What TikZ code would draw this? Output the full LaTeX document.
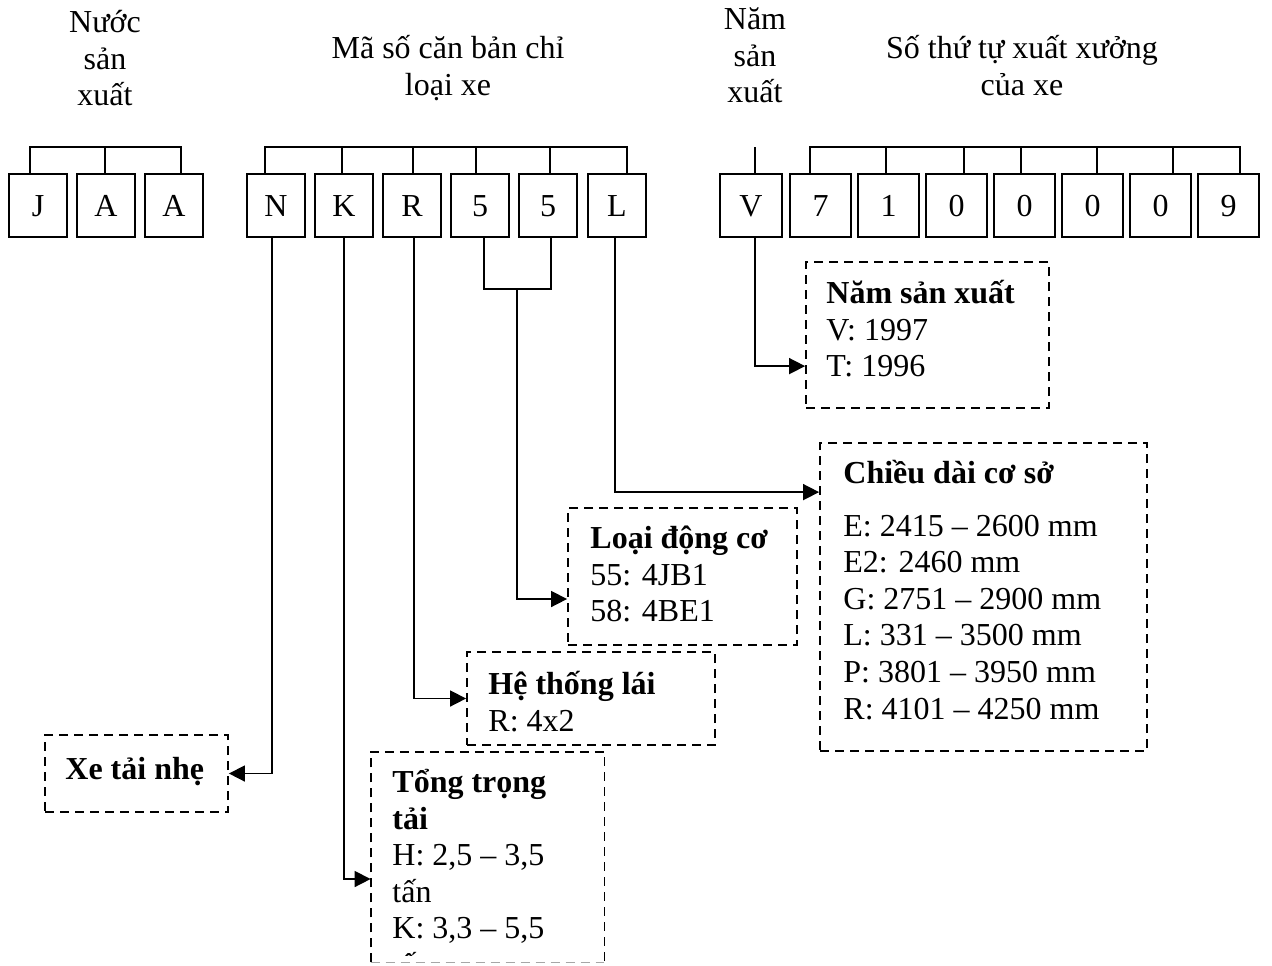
\documentclass[tikz,border=0pt]{standalone}
\usepackage{fontspec}
\setmainfont{Liberation Serif}
\usetikzlibrary{arrows.meta,calc}
\begin{document}
\begin{tikzpicture}[x=0.5pt,y=-0.5pt,
 txt/.style={font=\fontsize{16}{18.3}\selectfont, inner sep=0pt},
 cell/.style={draw, line width=1pt, minimum height=31.5pt, inner sep=0pt, text height=10.6pt, text depth=0pt, font=\fontsize{16}{18.3}\selectfont},
 dline/.style={dash pattern=on 4.5pt off 3pt, line width=0.9pt},
 dbox/.style={draw, dline, inner sep=0pt},
 conn/.style={line width=0.8pt},
 arr/.style={conn, -{Triangle[length=8pt,width=8pt]}}]
\useasboundingbox (0,0) rectangle (1272,965);
\clip (0,0) rectangle (1272,965);

% header texts
\node[txt, anchor=north, align=center] (h1) at (105,0) {\rule{0pt}{16pt}Nước\\sản\\xuất};
\node[txt, anchor=north, align=center] (h2) at (448,26) {\rule{0pt}{16pt}Mã số căn bản chỉ\\loại xe};
\node[txt, anchor=north, align=center] (h3) at (755,-3) {\rule{0pt}{16pt}Năm\\sản\\xuất};
\node[txt, anchor=north, align=center] (h4) at (1022,26) {\rule{0pt}{16pt}Số thứ tự xuất xưởng\\của xe};

% code cells
\node[cell, minimum width=29pt] (j)  at (38,205.5)  {J};
\node[cell, minimum width=29pt] (a1) at (106,205.5) {A};
\node[cell, minimum width=29pt] (a2) at (174,205.5) {A};
\node[cell, minimum width=29pt] (n)  at (276,205.5) {N};
\node[cell, minimum width=29pt] (k)  at (344,205.5) {K};
\node[cell, minimum width=29pt] (r)  at (412,205.5) {R};
\node[cell, minimum width=29pt] (f1) at (480,205.5) {5};
\node[cell, minimum width=29pt] (f2) at (548,205.5) {5};
\node[cell, minimum width=29pt] (l)  at (617,205.5) {L};
\node[cell, minimum width=31pt] (v)  at (751,205.5) {V};
\node[cell, minimum width=30.5pt] (d1) at (820.5,205.5) {7};
\node[cell, minimum width=30.5pt] (d2) at (888.5,205.5) {1};
\node[cell, minimum width=30.5pt] (d3) at (956.5,205.5) {0};
\node[cell, minimum width=30.5pt] (d4) at (1024.5,205.5) {0};
\node[cell, minimum width=30.5pt] (d5) at (1092.5,205.5) {0};
\node[cell, minimum width=30.5pt] (d6) at (1160.5,205.5) {0};
\node[cell, minimum width=30.5pt] (d7) at (1228.5,205.5) {9};

% brackets
\coordinate (brk) at (0,147);
\draw[conn] ([xshift=-4pt]j.north) |- ([xshift=3.5pt]a2.north |- brk) -- ([xshift=3.5pt]a2.north);
\draw[conn] ([xshift=-0.5pt]a1.north) -- ([xshift=-0.5pt]a1.north |- brk);

\draw[conn] ([xshift=-5.5pt]n.north) |- ([xshift=5pt]l.north |- brk) -- ([xshift=5pt]l.north);
\foreach \nm/\dx in {k/-1,r/0.5,f1/-2,f2/1}
  \draw[conn] ([xshift=\dx pt]\nm.north) -- ([xshift=\dx pt]\nm.north |- brk);

\draw[conn] ([xshift=2pt]v.north) -- ([xshift=2pt]v.north |- brk);

\draw[conn] ([xshift=-5.25pt]d1.north) |- ([xshift=5.75pt]d7.north |- brk) -- ([xshift=5.75pt]d7.north);
\foreach \nm/\dx in {d2/-1.25,d3/3.75,d4/-1.75,d5/2.25,d6/6.25}
  \draw[conn] ([xshift=\dx pt]\nm.north) -- ([xshift=\dx pt]\nm.north |- brk);

% dashed boxes
\node[dbox, minimum width=121.5pt, minimum height=73pt] (nam) at (927.5,335) {};
\node[dbox, minimum width=163.5pt, minimum height=154pt] (chieu) at (983.5,597) {};
\node[dbox, minimum width=114.5pt, minimum height=68.5pt] (loai) at (682.5,576.5) {};
\node[dbox, minimum width=124pt, minimum height=46.5pt] (he) at (591,698.5) {};
\node[dbox, minimum width=91.5pt, minimum height=38.5pt] (xe) at (136.5,773.5) {};
\node[inner sep=0pt, minimum width=116.5pt, minimum height=105pt] (tong) at (487.5,857) {};
\draw[dline] (tong.south west) -- (tong.north west) -- (tong.north east) -- (tong.south east);
\draw[dline, gray!70] (tong.south west) -- (tong.south east);

% box texts
\node[txt, anchor=north west, align=left] (namt) at (826,271) {\rule{0pt}{16pt}\textbf{Năm sản xuất}\\V: 1997\\T: 1996};
\node[txt, anchor=north west, align=left] (chieut) at (843,451) {\rule{0pt}{16pt}\textbf{Chiều dài cơ sở}\\[8pt]E: 2415 – 2600 mm\\E2: 2460 mm\\G: 2751 – 2900 mm\\L: 331 – 3500 mm\\P: 3801 – 3950 mm\\R: 4101 – 4250 mm};
\node[txt, anchor=north west, align=left] (loait) at (590,516) {\rule{0pt}{16pt}\textbf{Loại động cơ}\\55: 4JB1\\58: 4BE1};
\node[txt, anchor=north west, align=left] (het) at (488,662) {\rule{0pt}{16pt}\textbf{Hệ thống lái}\\R: 4x2};
\node[txt, anchor=north west, align=left] (xet) at (65,747) {\rule{0pt}{16pt}\textbf{Xe tải nhẹ}};
\begin{scope}
\clip (371,752) rectangle (604,955);
\node[txt, anchor=north west, align=left] (tongt) at (392,760) {\rule{0pt}{16pt}\textbf{Tổng trọng}\\\textbf{tải}\\H: 2,5 – 3,5\\tấn\\K: 3,3 – 5,5\\tấn};
\end{scope}

% connectors
\draw[arr] ([xshift=-2pt]n.south) |- (xe.east);
\draw[arr] (k.south) |- ([yshift=-11pt]tong.west);
\draw[arr] ([xshift=1pt]r.south) |- (he.west);
\coordinate (fm) at (517,289);
\draw[conn] ([xshift=2pt]f1.south) |- (fm) -| ([xshift=1.5pt]f2.south);
\draw[arr] (fm) |- ([yshift=-11.25pt]loai.west);
\draw[arr] ([xshift=-1pt]l.south) |- ([yshift=-25pt]chieu.north west);
\draw[arr] ([xshift=2pt]v.south) |- ([yshift=-52.5pt]nam.north west);
\end{tikzpicture}
\end{document}
